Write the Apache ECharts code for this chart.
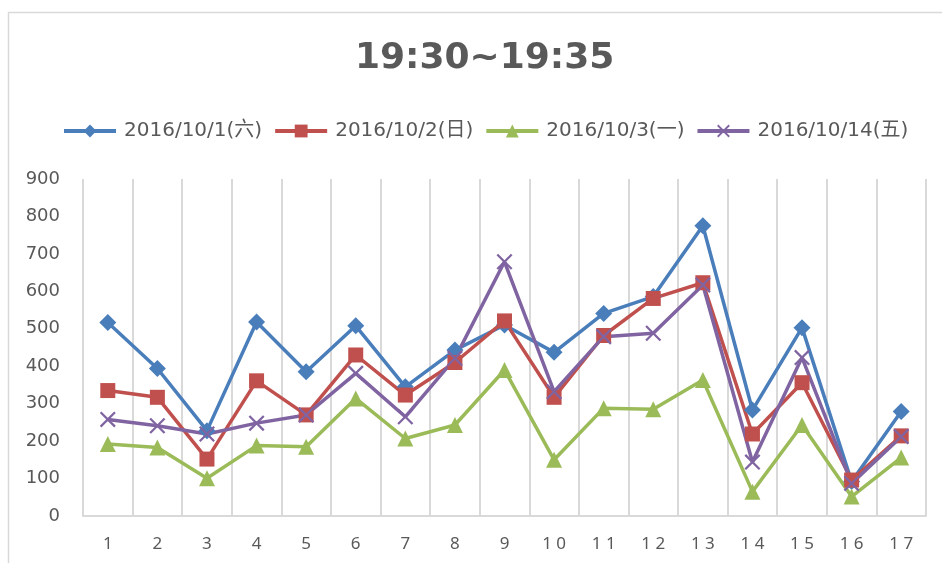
<!DOCTYPE html>
<html>
<head>
<meta charset="utf-8">
<script src="https://cdn.jsdelivr.net/npm/echarts@6/dist/echarts.min.js"></script>
<style>
  html, body { margin: 0; padding: 0; background: #fff; }
  #main { width: 942px; height: 563px; }
</style>
</head>
<body>
<div id="main"></div>
<script>
// 数据
var categories = ['1', '2', '3', '4', '5', '6', '7', '8', '9', '10', '11', '12', '13', '14', '15', '16', '17'];
var seriesNames = ['2016/10/1(六)', '2016/10/2(日)', '2016/10/3(一)', '2016/10/14(五)'];
var day1 = [517, 394, 228, 518, 385, 508, 345, 443, 510, 437, 541, 586, 775, 283, 503, 92, 279];
var day2 = [335, 317, 152, 361, 270, 430, 323, 410, 521, 317, 482, 581, 623, 219, 356, 96, 214];
var day3 = [192, 183, 101, 188, 185, 314, 207, 243, 390, 150, 288, 285, 363, 65, 243, 52, 156];
var day14 = [258, 241, 219, 248, 270, 381, 265, 421, 679, 332, 479, 488, 617, 144, 423, 87, 212];
var yTicks = [0, 100, 200, 300, 400, 500, 600, 700, 800, 900];

var colors = ['#4A7EBB', '#C0504D', '#9BBB59', '#8064A2'];
var crossSymbol = 'path://M0,1L1,0L10,9L9,10Z M9,0L10,1L1,10L0,9Z';

var chart = echarts.init(document.getElementById('main'));

function makeSeries(name, data, color, symbol, size) {
  return {
    name: name,
    type: 'line',
    data: data,
    symbol: symbol,
    symbolSize: size,
    showAllSymbol: true,
    lineStyle: { color: color, width: 3.5 },
    itemStyle: { color: color },
    emphasis: { disabled: true },
    animation: false
  };
}

var option = {
  color: colors,
  animation: false,
  graphic: [{
    type: 'rect',
    shape: { x: 8.5, y: 12.5, width: 960, height: 600 },
    style: { fill: 'none', stroke: '#d9d9d9', lineWidth: 1.5 },
    silent: true
  }],
  title: {
    text: '19:30~19:35',
    left: 350,
    top: 36,
    textStyle: {
      fontFamily: 'DejaVu Sans',
      fontSize: 36,
      fontWeight: 'bold',
      color: '#595959'
    }
  },
  legend: {
    top: 116,
    left: 57,
    itemWidth: 52,
    itemHeight: 16,
    itemGap: 11,
    lineStyle: { width: 4 },
    textStyle: { fontSize: 20, color: '#595959', fontFamily: 'DejaVu Sans, Noto Sans CJK SC', padding: [0, 0, 0, 3] },
    data: seriesNames
  },
  grid: { left: 83, right: 16, top: 179, bottom: 47 },
  xAxis: {
    type: 'category',
    data: categories,
    boundaryGap: true,
    axisLine: { lineStyle: { color: '#d9d9d9', width: 2 } },
    axisTick: { show: false },
    splitLine: { show: true, lineStyle: { color: '#d9d9d9', width: 2 } },
    axisLabel: {
      margin: 20,
      fontSize: 17,
      color: '#595959',
      fontFamily: 'Noto Sans',
      interval: 0,
      formatter: function (v) { return v.split('').join(' '); }
    }
  },
  yAxis: {
    type: 'value',
    min: yTicks[0],
    max: yTicks[yTicks.length - 1],
    interval: 100,
    axisLine: { show: false },
    axisTick: { show: false },
    splitLine: { show: false },
    axisLabel: { margin: 23, fontSize: 18, color: '#595959', fontFamily: 'DejaVu Sans' }
  },
  series: [
    makeSeries(seriesNames[0], day1, colors[0], 'diamond', 17),
    makeSeries(seriesNames[1], day2, colors[1], 'rect', 15),
    makeSeries(seriesNames[2], day3, colors[2], 'triangle', 16),
    makeSeries(seriesNames[3], day14, colors[3], crossSymbol, 16)
  ]
};

chart.setOption(option);
</script>
</body>
</html>
